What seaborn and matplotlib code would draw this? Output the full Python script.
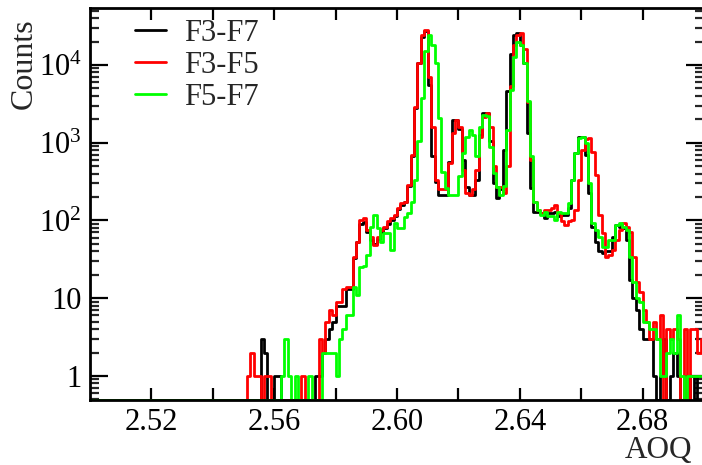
import numpy as np
import pandas as pd
import matplotlib
matplotlib.use("Agg")
import matplotlib.pyplot as plt
import seaborn as sns
from matplotlib.ticker import LogLocator, NullFormatter

sns.set_theme(style="white")
plt.rcParams["font.family"] = ["Liberation Serif", "DejaVu Serif"]
plt.rcParams["mathtext.fontset"] = "custom"
plt.rcParams["mathtext.rm"] = "Liberation Serif"
plt.rcParams["mathtext.it"] = "Liberation Serif:italic"

# ---------------- data ----------------
aoq_lo, aoq_hi, n_bins = 2.50, 2.70, 180
series_names = ["F3-F7", "F3-F5", "F5-F7"]
series_colors = ["#000000", "#ff0000", "#00ff00"]

f3_f7 = [0] * 45 + [
    0, 0, 0, 0, 0, 3, 2, 0, 0, 1, 1, 0, 0, 0, 0, 0, 0, 0, 0, 0,
    0, 1, 1, 2, 3, 4, 5, 8, 8, 8, 13, 13, 33, 53, 90, 95, 70, 56, 50, 58,
    70, 80, 90, 100, 115, 140, 160, 175, 280, 680, 2800, 10500, 23000, 27000, 5500, 670, 315, 215, 215, 215,
    570, 1970, 1970, 1500, 600, 270, 215, 215, 330, 1250, 2400, 2400, 1050, 300, 195, 250, 810, 4600, 14000, 24000,
    26000, 18000, 10700, 1330, 260, 130, 130, 125, 108, 125, 125, 130, 114, 118, 118, 145, 330, 740, 1200, 1200,
    700, 225, 83, 53, 40, 38, 41, 41, 62, 88, 83, 80, 56, 17, 10, 7, 4, 3, 3, 3,
    1, 0, 1, 3, 0, 1, 2, 1, 0, 1, 0, 1, 0, 1, 1,
]
f3_f5 = [0] * 45 + [
    0, 1, 2, 1, 1, 0, 1, 1, 0, 0, 0, 0, 0, 0, 0, 0, 0, 1, 0, 0,
    0, 0, 3, 2, 5, 7, 6, 9, 9, 13, 14, 14, 34, 53, 101, 108, 76, 62, 48, 62,
    76, 83, 97, 108, 118, 145, 168, 175, 288, 700, 2900, 10700, 24000, 28000, 7100, 1600, 330, 250, 250, 250,
    550, 1330, 1970, 1600, 450, 225, 215, 250, 450, 1200, 2170, 2400, 1600, 500, 270, 270, 225, 500, 5300, 18000,
    24000, 26000, 15800, 3300, 600, 175, 137, 125, 137, 137, 145, 158, 125, 97, 88, 97, 101, 137, 330, 810,
    1100, 1150, 770, 385, 118, 69, 34, 36, 42, 56, 76, 93, 83, 72, 34, 16, 12, 7, 5, 3,
    5, 3, 6, 0, 4, 3, 4, 3, 0, 4, 0, 4, 4, 2, 3,
]
f5_f7 = [0] * 45 + [
    0, 0, 0, 0, 0, 0, 0, 0, 0, 0, 0, 1, 3, 1, 0, 1, 0, 0, 0, 1,
    0, 0, 0, 2, 2, 2, 2, 1, 3, 4, 6, 6, 14, 11, 25, 26, 36, 83, 118, 80,
    53, 69, 69, 42, 93, 80, 80, 112, 125, 175, 330, 1050, 3800, 15000, 24000, 18000, 10700, 2100, 425, 260,
    215, 215, 215, 370, 740, 1200, 1450, 1250, 670, 1600, 2300, 2200, 890, 410, 270, 215, 280, 1450, 4800, 12800,
    20000, 18000, 10700, 3400, 670, 175, 137, 118, 130, 114, 114, 101, 130, 125, 125, 168, 330, 740, 1150, 1200,
    1000, 300, 93, 76, 62, 46, 46, 56, 56, 88, 93, 83, 76, 34, 16, 10, 9, 5, 5, 4,
    4, 3, 1, 1, 2, 3, 2, 6, 1, 0, 1, 1, 1, 1, 1,
]
series_counts = [f3_f7, f3_f5, f5_f7]

x_major = [2.52, 2.56, 2.60, 2.64, 2.68]
x_major_labels = ["2.52", "2.56", "2.60", "2.64", "2.68"]
x_minor = [2.54, 2.58, 2.62, 2.66]
y_major = [1, 10, 100, 1000, 10000]
y_major_labels = ["1", "10", r"$\mathregular{10^{2}}$", r"$\mathregular{10^{3}}$", r"$\mathregular{10^{4}}$"]

# ---------------- figure ----------------
W, H = 702, 465
fig = plt.figure(figsize=(W / 100, H / 100), dpi=100)
ax = fig.add_axes([90 / W, 65 / H, 614 / W, 392 / H])

ymin, ymax = 0.49, 5.4e4
edges = np.linspace(aoq_lo, aoq_hi, n_bins + 1)

for name, counts, color in zip(series_names, series_counts, series_colors):
    c = np.maximum(np.asarray(counts, dtype=float), ymin)
    y = np.append(c, c[-1])
    df = pd.DataFrame({"AOQ": edges, "Counts": y})
    sns.lineplot(data=df, x="AOQ", y="Counts", drawstyle="steps-post",
                 color=color, lw=2.0, ax=ax, label=name,
                 estimator=None, sort=False)

ax.set_yscale("log")
ax.set_xlim(aoq_lo, aoq_hi)
ax.set_ylim(ymin, ymax)

ax.set_xticks(x_major)
ax.set_xticklabels(x_major_labels)
ax.set_xticks(x_minor, minor=True)
ax.set_yticks(y_major)
ax.set_yticklabels(y_major_labels)
ax.yaxis.set_minor_locator(LogLocator(base=10, subs=np.arange(2, 10)))
ax.yaxis.set_minor_formatter(NullFormatter())

ax.tick_params(axis="x", which="both", direction="in", length=8.5, width=1.6,
               bottom=True, top=True, labelsize=22, pad=6, colors="black")
ax.tick_params(axis="y", which="major", direction="in", length=13, width=1.6,
               left=True, right=True, labelsize=22, pad=6, colors="black")
ax.tick_params(axis="y", which="minor", direction="in", length=6.5, width=1.6,
               left=True, right=True)

for s in ax.spines.values():
    s.set_color("black")
    s.set_linewidth(2.0)

ax.set_xlabel("")
ax.set_ylabel("")
fig.text(24 / W, 1 - 18 / H, "Counts", rotation=90, ha="center", va="top", fontsize=23)
fig.text(692 / W, 1 - 458 / H, "AOQ", ha="right", va="baseline", fontsize=22.5)

handles, labels = ax.get_legend_handles_labels()
ax.legend(handles, labels, loc="upper left", bbox_to_anchor=(135 / W, 1 - 19 / H),
          bbox_transform=fig.transFigure, frameon=False, fontsize=22,
          handlelength=1.0, handletextpad=0.6, labelspacing=0.1,
          borderpad=0, borderaxespad=0)

fig.savefig("out.png", dpi=100)
